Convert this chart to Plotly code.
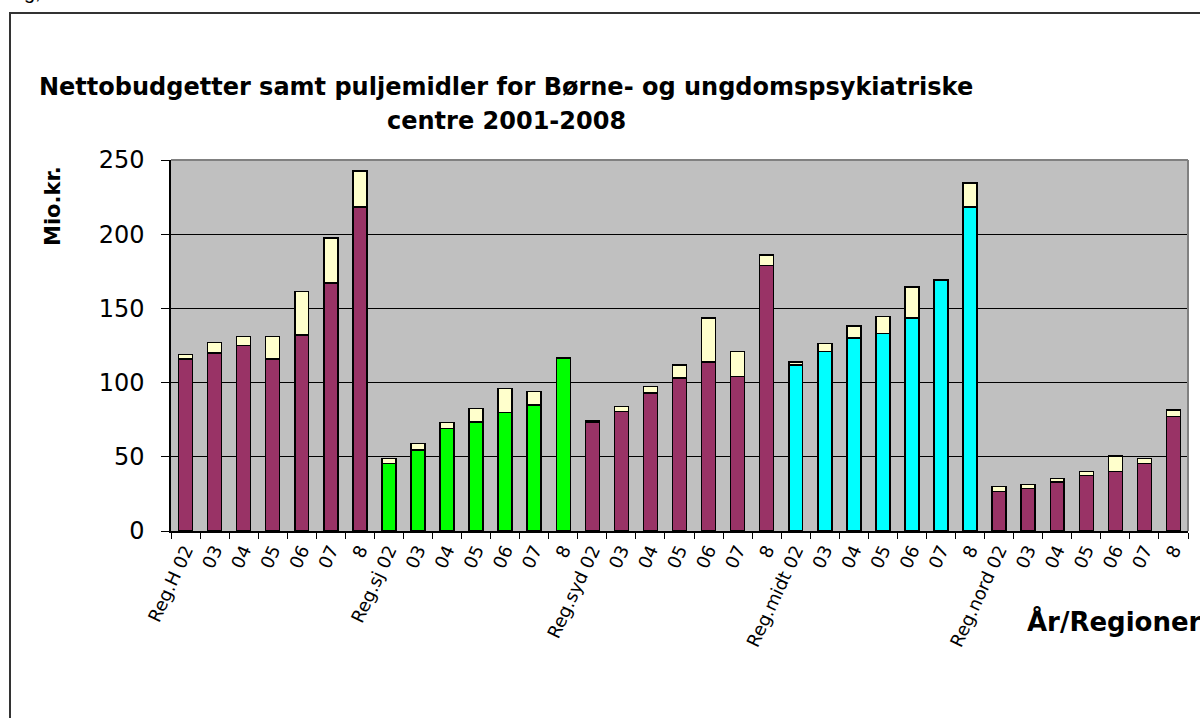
import plotly.graph_objects as go

# ---------------- data ----------------
regions = ["Reg.H", "Reg.sj", "Reg.syd", "Reg.midt", "Reg.nord"]
years = ["02", "03", "04", "05", "06", "07", "8"]
region_colors = ["#993366", "#00FF00", "#993366", "#00FFFF", "#993366"]

netto_H = [116, 120, 125, 116, 132, 167, 218.5]
netto_sj = [45.5, 54.5, 69, 73.5, 80, 85, 116.5]
netto_syd = [73.5, 80.5, 93, 103, 114, 104, 179]
netto_midt = [112, 121, 130, 133, 143.5, 169, 218.5]
netto_nord = [26.5, 28.7, 33, 37.5, 40, 45.5, 77]

pulje_H = [3, 7, 6, 15, 29.5, 30.5, 24]
pulje_sj = [3.5, 4.5, 4, 9, 16, 9, 0]
pulje_syd = [1, 3.5, 4.5, 9, 29.5, 17, 7]
pulje_midt = [2, 5.5, 8, 11.5, 21, 0, 16]
pulje_nord = [3.5, 2.5, 2.5, 2.5, 10.5, 3.5, 4.5]

y_ticks = [0, 50, 100, 150, 200, 250]

title_line1 = "Nettobudgetter samt puljemidler for Børne- og ungdomspsykiatriske"
title_line2 = "centre 2001-2008"
y_title = "Mio.kr."
x_title = "År/Regioner"

# ---------------- build ----------------
netto = netto_H + netto_sj + netto_syd + netto_midt + netto_nord
pulje = pulje_H + pulje_sj + pulje_syd + pulje_midt + pulje_nord
tick_text = []
colors = []
for r, c in zip(regions, region_colors):
    for i, y in enumerate(years):
        tick_text.append(f"{r} {y}" if i == 0 else y)
        colors.append(c)
xs = list(range(len(netto)))

FONT = "Arial, 'Liberation Sans', sans-serif"
WIDE = "'DejaVu Sans', Arial, sans-serif"
W, H = 1200, 718
L, R, T, B = 171, 12, 160, 187
pw, ph = W - L - R, H - T - B


def px(x):
    return (x - L) / pw


def py(y):
    return (H - B - y) / ph


fig = go.Figure()
fig.add_trace(go.Bar(x=xs, y=netto, width=0.48, marker=dict(color=colors, line=dict(color="black", width=1.5)),
                     name="Netto", showlegend=False))
fig.add_trace(go.Bar(x=xs, y=pulje, width=0.48, marker=dict(color="#FFFFCC", line=dict(color="black", width=1.5)),
                     name="Pulje", showlegend=False))

fig.update_layout(
    width=W, height=H, barmode="stack",
    margin=dict(l=L, r=R, t=T, b=B, pad=0),
    paper_bgcolor="white", plot_bgcolor="#C0C0C0",
    font=dict(family=FONT, color="black"),
    xaxis=dict(range=[-0.5, len(xs) - 0.5], tickmode="array", tickvals=xs, ticktext=tick_text,
               tickangle=-65, ticks="", tickfont=dict(size=18, family=WIDE), showgrid=False, zeroline=False,
               showline=True, linecolor="black", linewidth=1.5,
               minor=dict(tickmode="linear", tick0=-0.5, dtick=1, ticks="outside", ticklen=6,
                          tickcolor="black", tickwidth=1, showgrid=False)),
    yaxis=dict(range=[0, 250], tickmode="array", tickvals=y_ticks, ticks="outside", ticklen=8,
               tickcolor="black", tickfont=dict(size=24, family=WIDE), ticklabelstandoff=12,
               showgrid=True, gridcolor="black", gridwidth=1, zeroline=False,
               showline=True, linecolor="black", linewidth=1.5),
)

# plot-area border top/right (gray)
fig.add_shape(type="line", xref="paper", yref="paper", x0=0, x1=1, y0=1, y1=1,
              line=dict(color="#808080", width=2), layer="above")
fig.add_shape(type="line", xref="paper", yref="paper", x0=1, x1=1, y0=0, y1=1,
              line=dict(color="#808080", width=2), layer="above")
# outer chart border
fig.add_shape(type="rect", xref="paper", yref="paper", x0=px(10), x1=px(1230), y0=py(13), y1=py(760),
              line=dict(color="#333333", width=2), fillcolor="rgba(0,0,0,0)", layer="above")

fig.add_annotation(text=f"<b>{title_line1}</b>", xref="paper", yref="paper", x=px(506), y=py(87),
                   xanchor="center", yanchor="middle", showarrow=False, font=dict(size=24, family=WIDE))
fig.add_annotation(text=f"<b>{title_line2}</b>", xref="paper", yref="paper", x=px(506), y=py(121),
                   xanchor="center", yanchor="middle", showarrow=False, font=dict(size=24, family=WIDE))
fig.add_annotation(text=f"<b>{y_title}</b>", xref="paper", yref="paper", x=px(53), y=py(206),
                   xanchor="center", yanchor="middle", textangle=-90, showarrow=False,
                   font=dict(size=21, family=WIDE))
fig.add_annotation(text=f"<b>{x_title}</b>", xref="paper", yref="paper", x=px(1025), y=py(621),
                   xanchor="left", yanchor="middle", showarrow=False, font=dict(size=26, family=WIDE))
fig.add_annotation(text="g,", xref="paper", yref="paper", x=px(22), y=py(-8),
                   xanchor="left", yanchor="middle", showarrow=False, font=dict(size=20))

fig.write_html("out.html")
